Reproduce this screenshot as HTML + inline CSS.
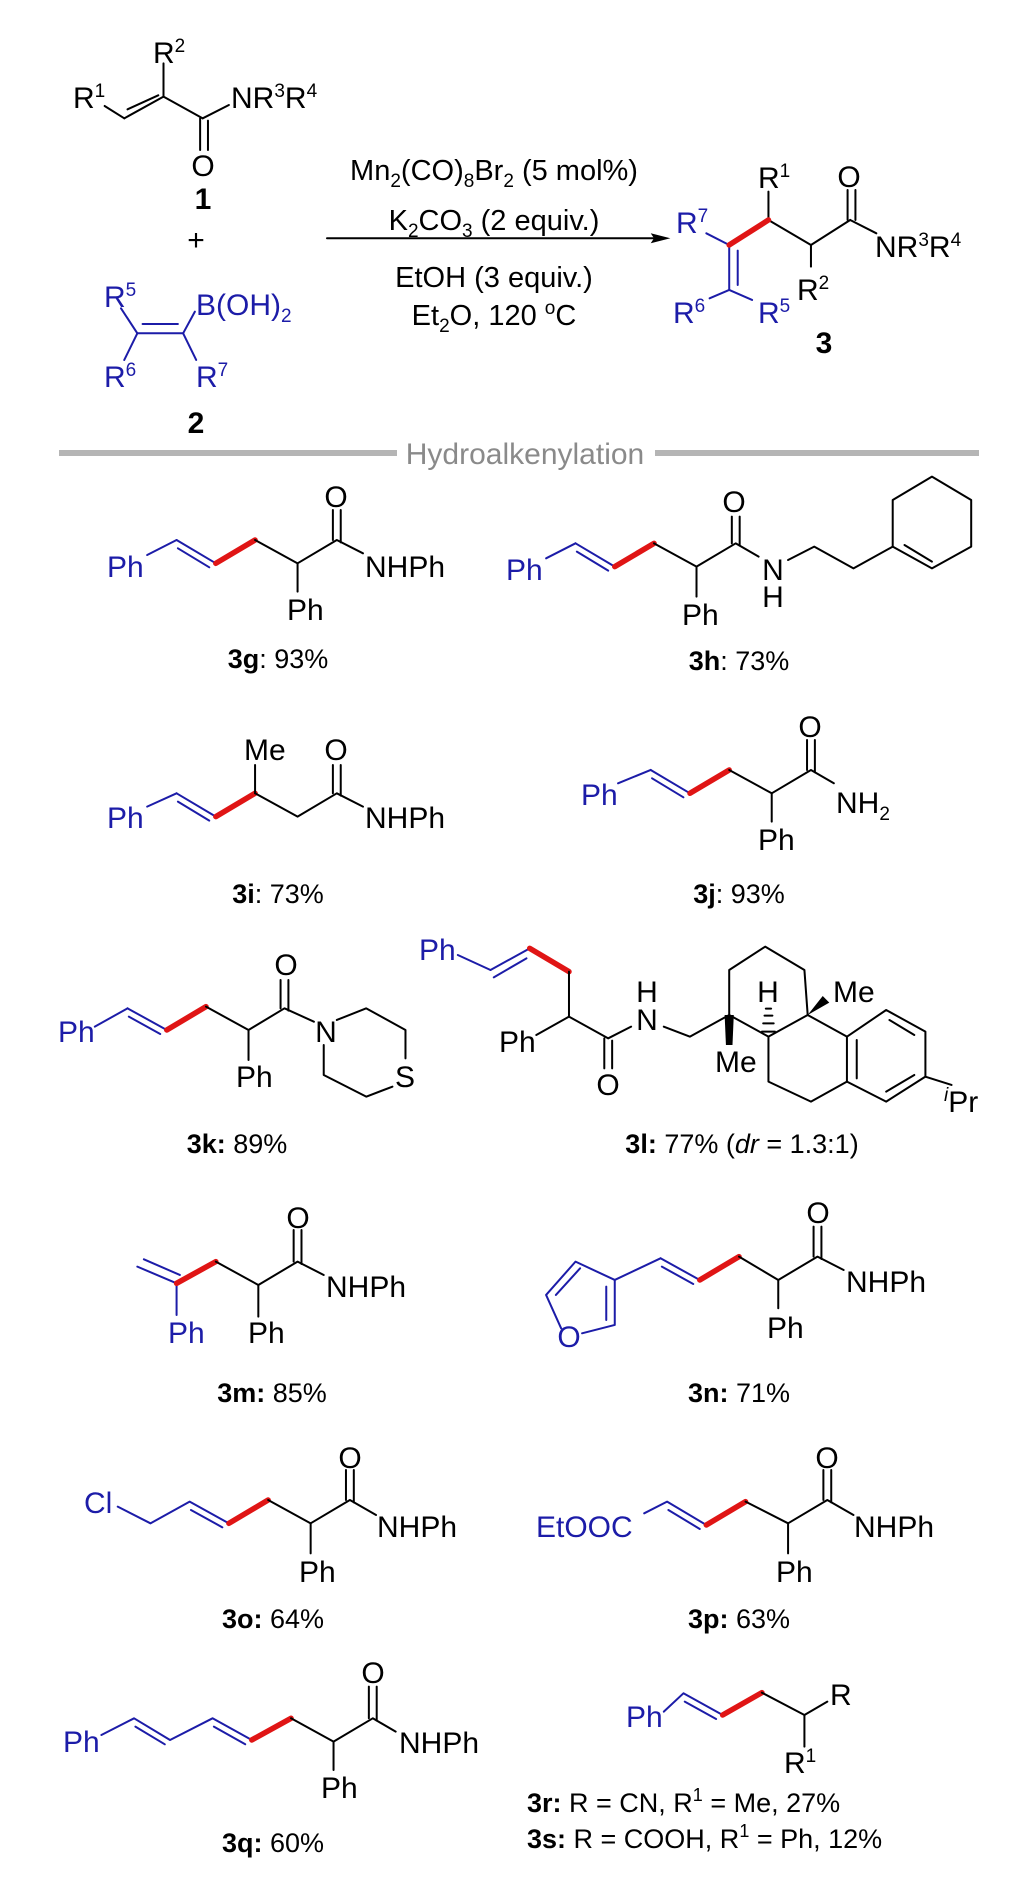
<!DOCTYPE html>
<html><head><meta charset="utf-8"><style>
html,body{margin:0;padding:0;background:#fff}
svg{display:block}
text{font-family:"Liberation Sans",Arial,sans-serif;font-size:30px;fill:#000}
.bl{fill:#1c1ca8}
.lab{font-size:27px}
.rg{font-size:29px}
line,polyline,polygon.o{vector-effect:non-scaling-stroke;stroke-linecap:round;stroke-linejoin:round}
.k line,.k polyline,.k polygon.o{stroke:#000;stroke-width:2;fill:none}
.u line,.u polyline,.u polygon.o{stroke:#1c1ca8;stroke-width:2;fill:none}
.r line{stroke:#e01515;stroke-width:5.5}
</style></head><body>
<svg width="1020" height="1891" viewBox="0 0 1020 1891" xmlns="http://www.w3.org/2000/svg">
<!-- ===== Panel 1 ===== -->
<g transform="translate(0,0) scale(0.654,0.3333)">
 <g class="k">
  <line x1="160" y1="318" x2="190" y2="355"/>
  <line x1="190" y1="355" x2="250" y2="290"/><line x1="195" y1="328" x2="242" y2="286"/>
  <line x1="250" y1="290" x2="250" y2="190"/>
  <line x1="250" y1="290" x2="310" y2="355"/>
  <line x1="306" y1="355" x2="306" y2="450"/><line x1="318" y1="362" x2="318" y2="450"/>
  <line x1="310" y1="355" x2="350" y2="315"/>
  <line x1="500" y1="715" x2="1000" y2="715"/>
  <line x1="1175" y1="660" x2="1175" y2="575"/>
  <line x1="1175" y1="660" x2="1240" y2="735"/>
  <line x1="1240" y1="735" x2="1240" y2="800"/>
  <line x1="1240" y1="735" x2="1300" y2="660"/>
  <line x1="1296" y1="660" x2="1296" y2="570"/><line x1="1308" y1="660" x2="1308" y2="570"/>
  <line x1="1300" y1="660" x2="1340" y2="700"/>
 </g>
 <polygon points="1025,715 995,700 1000,715 995,730" fill="#000"/>
 <g class="u">
  <line x1="185" y1="925" x2="210" y2="1000"/>
  <line x1="210" y1="1000" x2="280" y2="1000"/><line x1="218" y1="972" x2="272" y2="972"/>
  <line x1="280" y1="1000" x2="298" y2="935"/>
  <line x1="210" y1="1000" x2="190" y2="1080"/>
  <line x1="280" y1="1000" x2="300" y2="1080"/>
  <line x1="1080" y1="700" x2="1115" y2="735"/>
  <line x1="1115" y1="735" x2="1115" y2="870"/><line x1="1128" y1="752" x2="1128" y2="855"/>
  <line x1="1115" y1="870" x2="1085" y2="895"/>
  <line x1="1115" y1="870" x2="1150" y2="900"/>
 </g>
 <g class="r"><line x1="1115" y1="735" x2="1175" y2="660"/></g>
</g>
<text x="73" y="108">R<tspan dy="-11" font-size="19">1</tspan></text>
<text x="153" y="63">R<tspan dy="-11" font-size="19">2</tspan></text>
<text x="231" y="108">NR<tspan dy="-11" font-size="19">3</tspan><tspan dy="11">R</tspan><tspan dy="-11" font-size="19">4</tspan></text>
<text x="203" y="176" text-anchor="middle">O</text>
<text x="203" y="209" text-anchor="middle" font-weight="bold">1</text>
<text x="196" y="250" text-anchor="middle">+</text>
<text class="bl" x="104" y="307">R<tspan dy="-11" font-size="19">5</tspan></text>
<text class="bl" x="196" y="315">B(OH)<tspan dy="7" font-size="19">2</tspan></text>
<text class="bl" x="104" y="387">R<tspan dy="-11" font-size="19">6</tspan></text>
<text class="bl" x="196" y="387">R<tspan dy="-11" font-size="19">7</tspan></text>
<text x="196" y="433" text-anchor="middle" font-weight="bold">2</text>
<text class="rg" x="494" y="180" text-anchor="middle">Mn<tspan dy="7" font-size="19">2</tspan><tspan dy="-7">(CO)</tspan><tspan dy="7" font-size="19">8</tspan><tspan dy="-7">Br</tspan><tspan dy="7" font-size="19">2</tspan><tspan dy="-7"> (5 mol%)</tspan></text>
<text class="rg" x="494" y="230" text-anchor="middle">K<tspan dy="7" font-size="19">2</tspan><tspan dy="-7">CO</tspan><tspan dy="7" font-size="19">3</tspan><tspan dy="-7"> (2 equiv.)</tspan></text>
<text class="rg" x="494" y="287" text-anchor="middle">EtOH (3 equiv.)</text>
<text class="rg" x="494" y="325" text-anchor="middle">Et<tspan dy="7" font-size="19">2</tspan><tspan dy="-7">O, 120 </tspan><tspan dy="-11" font-size="19">o</tspan><tspan dy="11">C</tspan></text>
<text class="bl" x="676" y="233">R<tspan dy="-11" font-size="19">7</tspan></text>
<text x="758" y="188">R<tspan dy="-11" font-size="19">1</tspan></text>
<text x="849" y="187" text-anchor="middle">O</text>
<text x="875" y="257">NR<tspan dy="-11" font-size="19">3</tspan><tspan dy="11">R</tspan><tspan dy="-11" font-size="19">4</tspan></text>
<text x="797" y="300">R<tspan dy="-11" font-size="19">2</tspan></text>
<text class="bl" x="673" y="323">R<tspan dy="-11" font-size="19">6</tspan></text>
<text class="bl" x="758" y="323">R<tspan dy="-11" font-size="19">5</tspan></text>
<text x="824" y="353" text-anchor="middle" font-weight="bold">3</text>
<rect x="59" y="450" width="338" height="6" fill="#b5b5b5"/>
<rect x="655" y="450" width="324" height="6" fill="#b5b5b5"/>
<text x="525" y="464" text-anchor="middle" font-size="30" style="fill:#8a8a8a">Hydroalkenylation</text>

<!-- ===== Panel 2 ===== -->
<g transform="translate(0,450) scale(0.654,0.3333)">
 <g class="u"><line x1="225" y1="315" x2="270" y2="270"/><line x1="270" y1="270" x2="330" y2="340"/><line x1="272" y1="295" x2="320" y2="352"/></g>
 <g class="r"><line x1="330" y1="340" x2="390" y2="270"/></g>
 <g class="k"><polyline points="390,270 455,340 515,270 555,310"/><line x1="455" y1="340" x2="455" y2="425"/><line x1="509" y1="270" x2="509" y2="180"/><line x1="521" y1="277" x2="521" y2="180"/></g>
 <g transform="translate(610,10)">
  <g class="u"><line x1="225" y1="315" x2="270" y2="270"/><line x1="270" y1="270" x2="330" y2="340"/><line x1="272" y1="295" x2="320" y2="352"/></g>
  <g class="r"><line x1="330" y1="340" x2="390" y2="270"/></g>
  <g class="k"><polyline points="390,270 455,340 515,270 550,310"/><line x1="455" y1="340" x2="455" y2="430"/><line x1="509" y1="270" x2="509" y2="190"/><line x1="521" y1="277" x2="521" y2="190"/></g>
 </g>
 <g class="k">
  <polyline points="1205,330 1245,290 1305,355 1365,290"/>
  <polygon class="o" points="1365,290 1365,150 1425,80 1485,150 1485,290 1425,355"/>
  <line x1="1383" y1="285" x2="1425" y2="335"/>
 </g>
 <g class="u"><line x1="225" y1="1070" x2="270" y2="1030"/><line x1="270" y1="1030" x2="330" y2="1100"/><line x1="272" y1="1055" x2="320" y2="1112"/></g>
 <g class="r"><line x1="330" y1="1100" x2="390" y2="1030"/></g>
 <g class="k"><polyline points="390,1030 455,1100 515,1030 555,1070"/><line x1="390" y1="1030" x2="390" y2="945"/><line x1="509" y1="1030" x2="509" y2="945"/><line x1="521" y1="1037" x2="521" y2="945"/></g>
 <g class="u"><line x1="945" y1="1000" x2="995" y2="960"/><line x1="995" y1="960" x2="1055" y2="1030"/><line x1="997" y1="985" x2="1045" y2="1042"/></g>
 <g class="r"><line x1="1055" y1="1030" x2="1115" y2="960"/></g>
 <g class="k"><polyline points="1115,960 1180,1030 1240,960 1275,1000"/><line x1="1180" y1="1030" x2="1180" y2="1115"/><line x1="1234" y1="960" x2="1234" y2="870"/><line x1="1246" y1="967" x2="1246" y2="870"/></g>
</g>
<text class="bl" x="107" y="577">Ph</text>
<text x="287" y="620">Ph</text>
<text x="336" y="507" text-anchor="middle">O</text>
<text x="365" y="577">NHPh</text>
<text class="lab" x="278" y="668" text-anchor="middle"><tspan font-weight="bold">3g</tspan>: 93%</text>
<text class="bl" x="506" y="580">Ph</text>
<text x="682" y="625">Ph</text>
<text x="734" y="512" text-anchor="middle">O</text>
<text x="773" y="580" text-anchor="middle">N</text>
<text x="773" y="607" text-anchor="middle">H</text>
<text class="lab" x="739" y="670" text-anchor="middle"><tspan font-weight="bold">3h</tspan>: 73%</text>
<text class="bl" x="107" y="828">Ph</text>
<text x="244" y="760">Me</text>
<text x="336" y="760" text-anchor="middle">O</text>
<text x="365" y="828">NHPh</text>
<text class="lab" x="278" y="903" text-anchor="middle"><tspan font-weight="bold">3i</tspan>: 73%</text>
<text class="bl" x="581" y="805">Ph</text>
<text x="758" y="850">Ph</text>
<text x="810" y="737" text-anchor="middle">O</text>
<text x="836" y="813">NH<tspan dy="7" font-size="19">2</tspan></text>
<text class="lab" x="739" y="903" text-anchor="middle"><tspan font-weight="bold">3j</tspan>: 93%</text>

<!-- ===== Panel 3 ===== -->
<g transform="translate(0,920) scale(0.654,0.3333)">
 <g class="u"><line x1="145" y1="320" x2="195" y2="265"/><line x1="195" y1="265" x2="255" y2="330"/><line x1="197" y1="290" x2="245" y2="342"/></g>
 <g class="r"><line x1="255" y1="330" x2="315" y2="260"/></g>
 <g class="k"><polyline points="315,260 380,330 435,265 480,305"/><line x1="380" y1="330" x2="380" y2="420"/><line x1="429" y1="265" x2="429" y2="180"/><line x1="441" y1="272" x2="441" y2="180"/>
  <polyline points="515,300 560,265 620,330 620,415"/><polyline points="600,500 560,530 495,465 495,375"/></g>
 <g class="u"><line x1="700" y1="105" x2="750" y2="150"/><line x1="750" y1="150" x2="810" y2="85"/><line x1="755" y1="172" x2="805" y2="115"/></g>
 <g class="r"><line x1="810" y1="85" x2="870" y2="155"/></g>
 <g class="k">
  <polyline points="870,155 870,290 930,355 965,320"/><line x1="870" y1="290" x2="820" y2="345"/>
  <line x1="924" y1="355" x2="924" y2="445"/><line x1="936" y1="362" x2="936" y2="445"/>
  <polyline points="1015,320 1055,350 1115,285"/>
  <polygon class="o" points="1115,285 1115,150 1170,80 1230,150 1235,285 1175,350"/>
  <polyline points="1175,350 1175,485 1240,545 1295,485 1295,350 1235,285"/>
  <polyline points="1295,350 1355,270 1415,335 1415,470 1355,545 1295,485"/>
  <line x1="1310" y1="360" x2="1310" y2="475"/><line x1="1360" y1="300" x2="1398" y2="345"/><line x1="1398" y1="465" x2="1355" y2="515"/>
  <line x1="1415" y1="470" x2="1455" y2="495"/>
 </g>
 <polygon points="1108,285 1122,285 1120,375 1110,375" fill="#000"/>
 <polygon points="1235,285 1268,248 1258,228" fill="#000"/>
 <g class="k"><line x1="1165" y1="335" x2="1185" y2="335"/><line x1="1167" y1="310" x2="1183" y2="310"/><line x1="1169" y1="287" x2="1181" y2="287"/><line x1="1171" y1="266" x2="1179" y2="266"/></g>
 <g class="u"><line x1="210" y1="1040" x2="270" y2="1090"/><line x1="220" y1="1018" x2="275" y2="1065"/><line x1="270" y1="1090" x2="270" y2="1185"/></g>
 <g class="r"><line x1="270" y1="1090" x2="330" y2="1025"/></g>
 <g class="k"><polyline points="330,1025 395,1095 455,1025 495,1065"/><line x1="395" y1="1095" x2="395" y2="1190"/><line x1="449" y1="1025" x2="449" y2="930"/><line x1="461" y1="1032" x2="461" y2="930"/></g>
 <g class="u">
  <polyline points="940,1080 880,1025 835,1125 858,1225"/><polyline points="890,1240 940,1215 940,1080"/>
  <line x1="927" y1="1100" x2="927" y2="1200"/><line x1="850" y1="1125" x2="887" y2="1045"/>
  <line x1="940" y1="1080" x2="1010" y2="1015"/><line x1="1010" y1="1015" x2="1070" y2="1080"/><line x1="1012" y1="1040" x2="1060" y2="1092"/>
 </g>
 <g class="r"><line x1="1070" y1="1080" x2="1130" y2="1010"/></g>
 <g class="k"><polyline points="1130,1010 1190,1080 1250,1010 1290,1050"/><line x1="1190" y1="1080" x2="1190" y2="1165"/><line x1="1244" y1="1010" x2="1244" y2="920"/><line x1="1256" y1="1017" x2="1256" y2="920"/></g>
</g>
<text class="bl" x="58" y="1042">Ph</text>
<text x="286" y="975" text-anchor="middle">O</text>
<text x="326" y="1042" text-anchor="middle">N</text>
<text x="405" y="1087" text-anchor="middle">S</text>
<text x="236" y="1087">Ph</text>
<text class="lab" x="237" y="1153" text-anchor="middle"><tspan font-weight="bold">3k:</tspan> 89%</text>
<text class="bl" x="419" y="960">Ph</text>
<text x="499" y="1052">Ph</text>
<text x="608" y="1095" text-anchor="middle">O</text>
<text x="647" y="1030" text-anchor="middle">N</text>
<text x="647" y="1002" text-anchor="middle">H</text>
<text x="715" y="1072">Me</text>
<text x="833" y="1002">Me</text>
<text x="768" y="1002" text-anchor="middle">H</text>
<text x="944" y="1112"><tspan dy="-11" font-size="19" font-style="italic">i</tspan><tspan dy="11">Pr</tspan></text>
<text class="lab" x="742" y="1153" text-anchor="middle"><tspan font-weight="bold">3l:</tspan> 77% (<tspan font-style="italic">dr</tspan> = 1.3:1)</text>
<text class="bl" x="168" y="1343">Ph</text>
<text x="248" y="1343">Ph</text>
<text x="298" y="1228" text-anchor="middle">O</text>
<text x="326" y="1297">NHPh</text>
<text class="lab" x="272" y="1402" text-anchor="middle"><tspan font-weight="bold">3m:</tspan> 85%</text>
<text class="bl" x="569" y="1347" text-anchor="middle">O</text>
<text x="767" y="1338">Ph</text>
<text x="818" y="1223" text-anchor="middle">O</text>
<text x="846" y="1292">NHPh</text>
<text class="lab" x="739" y="1402" text-anchor="middle"><tspan font-weight="bold">3n:</tspan> 71%</text>

<!-- ===== Panel 4 ===== -->
<g transform="translate(0,1400) scale(0.654,0.3333)">
 <g class="u"><polyline points="180,320 230,370 290,305 350,370"/><line x1="292" y1="330" x2="340" y2="382"/></g>
 <g class="r"><line x1="350" y1="370" x2="410" y2="300"/></g>
 <g class="k"><polyline points="410,300 475,370 535,300 575,345"/><line x1="475" y1="370" x2="475" y2="460"/><line x1="529" y1="300" x2="529" y2="210"/><line x1="541" y1="307" x2="541" y2="210"/></g>
 <g class="u"><polyline points="985,340 1020,305 1080,375"/><line x1="1022" y1="330" x2="1070" y2="387"/></g>
 <g class="r"><line x1="1080" y1="375" x2="1140" y2="305"/></g>
 <g class="k"><polyline points="1140,305 1205,370 1265,300 1305,345"/><line x1="1205" y1="370" x2="1205" y2="460"/><line x1="1259" y1="300" x2="1259" y2="210"/><line x1="1271" y1="307" x2="1271" y2="210"/></g>
 <g class="u"><polyline points="155,1005 205,955 260,1020 325,955 385,1020"/><line x1="207" y1="980" x2="252" y2="1033"/><line x1="327" y1="980" x2="375" y2="1033"/></g>
 <g class="r"><line x1="385" y1="1020" x2="445" y2="955"/></g>
 <g class="k"><polyline points="445,955 510,1025 570,955 605,995"/><line x1="510" y1="1025" x2="510" y2="1110"/><line x1="564" y1="955" x2="564" y2="860"/><line x1="576" y1="962" x2="576" y2="860"/></g>
 <g class="u"><polyline points="1015,935 1045,880 1105,945"/><line x1="1047" y1="905" x2="1095" y2="957"/></g>
 <g class="r"><line x1="1105" y1="945" x2="1165" y2="878"/></g>
 <g class="k"><polyline points="1165,878 1230,945 1265,905"/><line x1="1230" y1="945" x2="1230" y2="1040"/></g>
</g>
<text class="bl" x="84" y="1513">Cl</text>
<text x="299" y="1582">Ph</text>
<text x="350" y="1468" text-anchor="middle">O</text>
<text x="377" y="1537">NHPh</text>
<text class="lab" x="273" y="1628" text-anchor="middle"><tspan font-weight="bold">3o:</tspan> 64%</text>
<text class="bl" x="536" y="1537">EtOOC</text>
<text x="776" y="1582">Ph</text>
<text x="827" y="1468" text-anchor="middle">O</text>
<text x="854" y="1537">NHPh</text>
<text class="lab" x="739" y="1628" text-anchor="middle"><tspan font-weight="bold">3p:</tspan> 63%</text>
<text class="bl" x="63" y="1752">Ph</text>
<text x="321" y="1798">Ph</text>
<text x="373" y="1683" text-anchor="middle">O</text>
<text x="399" y="1753">NHPh</text>
<text class="lab" x="273" y="1852" text-anchor="middle"><tspan font-weight="bold">3q:</tspan> 60%</text>
<text class="bl" x="626" y="1727">Ph</text>
<text x="830" y="1705">R</text>
<text x="784" y="1773">R<tspan dy="-11" font-size="19">1</tspan></text>
<text class="lab" x="527" y="1812" font-size="28"><tspan font-weight="bold">3r:</tspan> R = CN, R<tspan dy="-11" font-size="18">1</tspan><tspan dy="11"> = Me, 27%</tspan></text>
<text class="lab" x="527" y="1848" font-size="28"><tspan font-weight="bold">3s:</tspan> R = COOH, R<tspan dy="-11" font-size="18">1</tspan><tspan dy="11"> = Ph, 12%</tspan></text>
</svg>
</body></html>
